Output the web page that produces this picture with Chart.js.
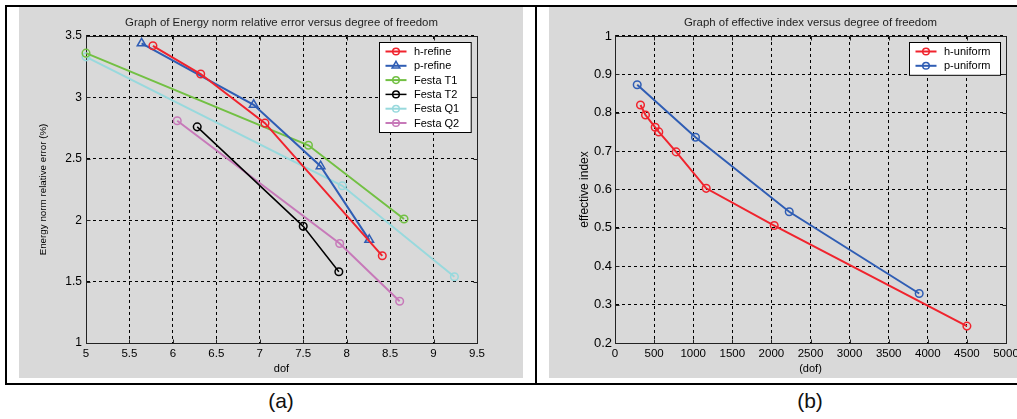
<!DOCTYPE html>
<html>
<head>
<meta charset="utf-8">
<script src="https://cdn.jsdelivr.net/npm/chart.js@4.4.1/dist/chart.umd.min.js"></script>
<style>
html,body{margin:0;padding:0;background:#fff;width:1017px;height:419px;overflow:hidden;font-family:'Liberation Sans',Arial,sans-serif;}
.ln{position:absolute;background:#000;}
.panel{position:absolute;background:#d9d9d9;}
canvas{position:absolute;left:0;top:0;}
.cap{position:absolute;top:389px;font-size:21px;color:#111;width:60px;text-align:center;font-family:'Liberation Sans',Arial,sans-serif;}
</style>
</head>
<body>
<div class="ln" style="left:5px;top:5px;width:1012px;height:2px;"></div>
<div class="ln" style="left:5px;top:383px;width:1012px;height:2px;"></div>
<div class="ln" style="left:5px;top:5px;width:2px;height:380px;"></div>
<div class="ln" style="left:535px;top:5px;width:2px;height:380px;"></div>
<div class="panel" style="left:19px;top:7px;width:504px;height:371px;"><canvas id="c1" width="504" height="371"></canvas></div>
<div class="panel" style="left:549px;top:7px;width:468px;height:371px;"><canvas id="c2" width="468" height="371"></canvas></div>
<div class="cap" style="left:251px;">(a)</div>
<div class="cap" style="left:780px;">(b)</div>
<script>
// ---------- Chart (a) data ----------
const aXTicks = [5, 5.5, 6, 6.5, 7, 7.5, 8, 8.5, 9, 9.5];
const aYTicks = [1, 1.5, 2, 2.5, 3, 3.5];
const hRefineX = [5.77, 6.32, 7.06, 8.41];
const hRefineY = [3.42, 3.19, 2.79, 1.71];
const pRefineX = [5.64, 6.93, 7.70, 8.26];
const pRefineY = [3.44, 2.94, 2.44, 1.84];
const festaT1X = [5.0, 7.56, 8.66];
const festaT1Y = [3.36, 2.61, 2.01];
const festaT2X = [6.28, 7.50, 7.91];
const festaT2Y = [2.76, 1.95, 1.58];
const festaQ1X = [5.0, 7.95, 9.24];
const festaQ1Y = [3.33, 2.28, 1.54];
const festaQ2X = [6.05, 7.92, 8.61];
const festaQ2Y = [2.81, 1.81, 1.34];

// ---------- Chart (b) data ----------
const bXTicks = [0, 500, 1000, 1500, 2000, 2500, 3000, 3500, 4000, 4500, 5000];
const bYTicks = [0.2, 0.3, 0.4, 0.5, 0.6, 0.7, 0.8, 0.9, 1];
const hUniformX = [326, 390, 514, 560, 782, 1166, 2036, 4500];
const hUniformY = [0.820, 0.794, 0.762, 0.750, 0.698, 0.603, 0.506, 0.244];
const pUniformX = [284, 1029, 2228, 3890];
const pUniformY = [0.873, 0.736, 0.542, 0.329];

const FONT = "'Liberation Sans', Arial, sans-serif";

function pts(xs, ys) { return xs.map((x, i) => ({x: x, y: ys[i]})); }
function series(label, xs, ys, color, width, style, radius) {
  return {
    label: label, data: pts(xs, ys),
    borderColor: color, borderWidth: width,
    pointStyle: style, pointRadius: radius, pointHoverRadius: radius,
    pointBorderColor: color, pointBackgroundColor: 'rgba(0,0,0,0)', pointBorderWidth: 1.5,
    fill: false, tension: 0, clip: false
  };
}

function drawMarker(ctx, style, x, y, r) {
  ctx.beginPath();
  if (style === 'triangle') {
    let rad = 0;
    ctx.moveTo(x + Math.sin(rad) * r, y - Math.cos(rad) * r);
    rad += 2 * Math.PI / 3;
    ctx.lineTo(x + Math.sin(rad) * r, y - Math.cos(rad) * r);
    rad += 2 * Math.PI / 3;
    ctx.lineTo(x + Math.sin(rad) * r, y - Math.cos(rad) * r);
    ctx.closePath();
  } else {
    ctx.arc(x, y, r, 0, Math.PI * 2);
  }
  ctx.stroke();
}

const boxPlugin = {
  id: 'boxPlugin',
  beforeDatasetsDraw(chart) {
    const ctx = chart.ctx, a = chart.chartArea;
    const L = Math.round(a.left) + 0.5, R = Math.round(a.right) + 0.5;
    const T = Math.round(a.top) + 0.5, B = Math.round(a.bottom) + 0.5;
    ctx.save();
    ctx.setLineDash([]);
    ctx.strokeStyle = '#222';
    ctx.lineWidth = 1;
    ctx.strokeRect(L, T, R - L, B - T);
    const tl = 4;
    ctx.beginPath();
    chart.scales.x.ticks.forEach(t => {
      const px = Math.round(chart.scales.x.getPixelForValue(t.value)) + 0.5;
      ctx.moveTo(px, B); ctx.lineTo(px, B - tl);
      ctx.moveTo(px, T); ctx.lineTo(px, T + tl);
    });
    chart.scales.y.ticks.forEach(t => {
      const py = Math.round(chart.scales.y.getPixelForValue(t.value)) + 0.5;
      ctx.moveTo(L, py); ctx.lineTo(L + tl, py);
      ctx.moveTo(R, py); ctx.lineTo(R - tl, py);
    });
    ctx.stroke();
    ctx.restore();
  },
  afterDraw(chart, args, opts) {
    const ctx = chart.ctx, a = chart.chartArea;
    const ds = chart.data.datasets;
    const rowH = 14.3;
    const w = opts.width;
    const h = 18.5 + (ds.length - 1) * rowH;
    const x0 = Math.round(a.right - opts.right - w) + 0.5;
    const y0 = Math.round(a.top + opts.top) + 0.5;
    ctx.save();
    ctx.setLineDash([]);
    ctx.fillStyle = '#fff';
    ctx.fillRect(x0, y0, w, h);
    ctx.strokeStyle = '#000';
    ctx.lineWidth = 1;
    ctx.strokeRect(x0, y0, w, h);
    ds.forEach((d, i) => {
      const cy = y0 + 9 + i * rowH;
      ctx.strokeStyle = d.borderColor;
      ctx.lineWidth = d.borderWidth;
      ctx.beginPath();
      ctx.moveTo(x0 + 6, cy); ctx.lineTo(x0 + 27, cy);
      ctx.stroke();
      ctx.lineWidth = 1.5;
      drawMarker(ctx, d.pointStyle, x0 + 16.5, cy, d.pointStyle === 'triangle' ? 4.5 : 3.3);
      ctx.fillStyle = '#000';
      ctx.font = '11px ' + FONT;
      ctx.textBaseline = 'middle';
      ctx.textAlign = 'left';
      ctx.fillText(d.label, x0 + 34.5, cy + 0.5);
    });
    ctx.restore();
  }
};

function axisOpts(min, max, tickVals, fixed, tickFont, tickPad, title, titleFont, titlePad) {
  return {
    type: 'linear', min: min, max: max,
    afterBuildTicks: s => { s.ticks = tickVals.map(v => ({value: v})); },
    afterFit: s => {
      if (fixed.w !== undefined) s.width = fixed.w;
      if (fixed.h !== undefined) s.height = fixed.h;
      s.paddingLeft = 0; s.paddingRight = 0; s.paddingTop = 0; s.paddingBottom = 0;
    },
    ticks: { autoSkip: false, maxRotation: 0, minRotation: 0, color: '#000', font: tickFont, padding: tickPad,
             callback: v => String(v) },
    grid: { color: '#000', lineWidth: 1, drawTicks: false },
    border: { display: true, color: '#222', dash: [3, 3] },
    title: { display: true, text: title, color: '#000', font: titleFont, padding: titlePad }
  };
}

function makeChart(id, datasets, titleText, xAxis, yAxis, padRight, legendOpts) {
  return new Chart(document.getElementById(id), {
    type: 'line',
    data: { datasets: datasets },
    plugins: [boxPlugin],
    options: {
      responsive: false, animation: false, devicePixelRatio: 1,
      events: [],
      layout: { padding: { left: 0, right: padRight, top: 0, bottom: 0 } },
      plugins: {
        legend: { display: false },
        tooltip: { enabled: false },
        title: {
          display: true, text: titleText, fullSize: false, color: '#222',
          font: { family: FONT, size: 11.4, weight: 'normal', lineHeight: 1.2 },
          padding: { top: 9.5, bottom: 5.8 }
        },
        boxPlugin: legendOpts
      },
      scales: { x: xAxis, y: yAxis }
    }
  });
}

makeChart('c1', [
    series('h-refine', hRefineX, hRefineY, '#f0232d', 2, 'circle', 3.8),
    series('p-refine', pRefineX, pRefineY, '#2f5db4', 2, 'triangle', 5),
    series('Festa T1', festaT1X, festaT1Y, '#72c043', 2, 'circle', 3.8),
    series('Festa T2', festaT2X, festaT2Y, '#000000', 1.5, 'circle', 3.8),
    series('Festa Q1', festaQ1X, festaQ1Y, '#98d9dd', 2, 'circle', 3.8),
    series('Festa Q2', festaQ2X, festaQ2Y, '#c779b9', 2, 'circle', 3.8)
  ],
  'Graph of Energy norm relative error versus degree of freedom',
  axisOpts(5, 9.5, aXTicks, {h: 35}, {family: FONT, size: 11.5}, 4, 'dof', {family: FONT, size: 11}, {top: 0, bottom: 2.4}),
  axisOpts(1, 3.5, aYTicks, {w: 67}, {family: FONT, size: 12}, 4, 'Energy norm relative error (%)', {family: FONT, size: 9.8}, {top: 18.6, bottom: 0}),
  46, {width: 91.7, right: 6.7, top: 5.7});

makeChart('c2', [
    series('h-uniform', hUniformX, hUniformY, '#f0232d', 2, 'circle', 3.8),
    series('p-uniform', pUniformX, pUniformY, '#2f5db4', 2, 'circle', 3.8)
  ],
  'Graph of effective index versus degree of freedom',
  axisOpts(0, 5000, bXTicks, {h: 35}, {family: FONT, size: 11.5}, 4, '(dof)', {family: FONT, size: 11}, {top: 0, bottom: 2.4}),
  axisOpts(0.2, 1, bYTicks, {w: 66}, {family: FONT, size: 13}, 3, 'effective index', {family: FONT, size: 12}, {top: 28.8, bottom: 0}),
  11, {width: 91, right: 6, top: 6.3});
</script>
</body>
</html>
